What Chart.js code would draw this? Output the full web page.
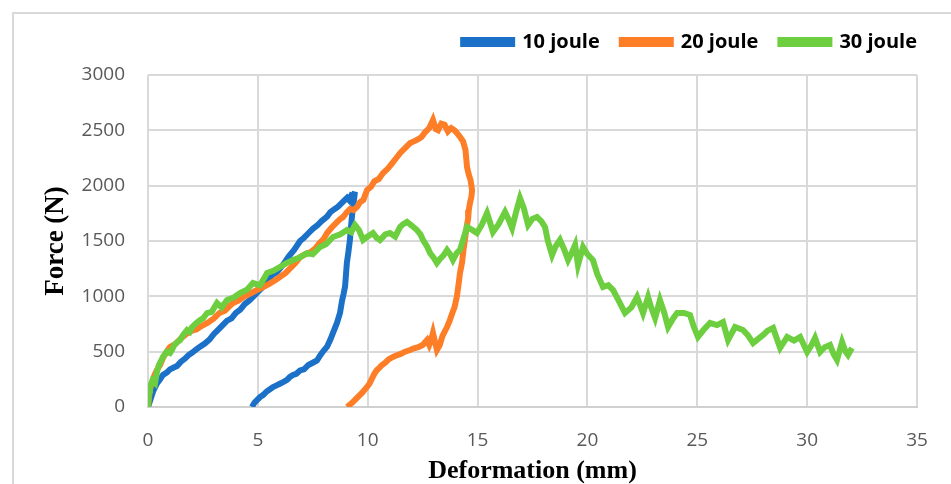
<!DOCTYPE html>
<html>
<head>
<meta charset="utf-8">
<script src="https://cdn.jsdelivr.net/npm/chart.js@4.4.1/dist/chart.umd.min.js"></script>
<style>
  html, body { margin: 0; padding: 0; background: #fff; }
  #wrap { width: 951px; height: 484px; }
</style>
</head>
<body>
<div id="wrap"><canvas id="c" width="951" height="484"></canvas></div>
<script>
// impact test curves (deformation mm / force N)
const labels = ['10 joule', '20 joule', '30 joule'];
const colors = ['#1b71c8', '#fd7e27', '#6dcf40'];
const xTicks = [0, 5, 10, 15, 20, 25, 30, 35];
const yTicks = [0, 500, 1000, 1500, 2000, 2500, 3000];

const blueX = [0, 0.1, 0.23, 0.4, 0.55, 0.68, 0.85, 1.0, 1.15, 1.32, 1.5, 1.7, 1.85, 2.0, 2.2, 2.37, 2.6, 2.8, 3.0, 3.2, 3.4, 3.6, 3.8, 4.0, 4.2, 4.4, 4.6, 4.78, 5.0, 5.2, 5.45, 5.69, 5.85, 6.0, 6.2, 6.4, 6.65, 6.92, 7.1, 7.3, 7.5, 7.7, 7.9, 8.15, 8.3, 8.5, 8.65, 8.8, 8.95, 9.06, 9.15, 9.25, 9.35, 9.42,
  9.36, 9.3, 9.25, 9.19, 9.12, 9.05, 8.97, 8.9, 8.83, 8.74, 8.6, 8.42, 8.3, 8.15, 8.0, 7.85, 7.69, 7.5, 7.3, 7.1, 6.92, 6.75, 6.6, 6.45, 6.33, 6.15, 6.0, 5.85, 5.69, 5.55, 5.4, 5.25, 5.1, 4.95, 4.85, 4.73];
const blueY = [0, 60, 140, 210, 250, 290, 310, 340, 355, 370, 410, 440, 470, 490, 520, 545, 575, 610, 660, 700, 740, 780, 800, 850, 880, 930, 960, 995, 1040, 1080, 1150, 1200, 1215, 1250, 1300, 1360, 1420, 1500, 1530, 1570, 1610, 1640, 1680, 1720, 1760, 1790, 1810, 1840, 1870, 1890, 1870, 1910, 1900, 1945,
  1850, 1760, 1650, 1510, 1400, 1300, 1090, 1020, 960, 850, 760, 670, 610, 545, 510, 470, 420, 400, 380, 340, 330, 300, 290, 270, 245, 225, 210, 195, 180, 160, 140, 110, 90, 60, 40, 0];

// loading branch up to the peak, then the unloading branch back to zero
const orangeX = [0, 0.08, 0.15, 0.3, 0.41, 0.55, 0.7, 0.85, 1.0, 1.25, 1.5, 1.75, 2.0, 2.2, 2.37, 2.7, 3.0, 3.25, 3.5, 3.7, 3.87, 4.1, 4.4, 4.7, 4.96, 5.2, 5.5, 5.75, 6.0, 6.25, 6.5, 6.7, 6.92, 7.15, 7.4, 7.6, 7.8, 8.0, 8.15, 8.35, 8.5, 8.7, 8.88, 9.05, 9.2, 9.35, 9.51, 9.65, 9.8, 9.97, 10.15, 10.3, 10.5, 10.7, 10.9, 11.1, 11.3, 11.5, 11.7, 11.93, 12.1, 12.3, 12.45, 12.6, 12.8, 12.97, 13.1, 13.2, 13.35, 13.5, 13.65, 13.8, 13.95, 14.06, 14.2, 14.34, 14.45, 14.52, 14.6, 14.68, 14.75,
  14.72, 14.66, 14.6, 14.57, 14.5, 14.43, 14.36, 14.29, 14.2, 14.15, 14.06, 13.95, 13.85, 13.73, 13.61, 13.5, 13.4, 13.28, 13.15, 13.05, 12.97, 12.88, 12.8, 12.7, 12.5, 12.3, 12.1, 11.93, 11.7, 11.5, 11.3, 11.15, 10.95, 10.8, 10.65, 10.56, 10.42, 10.3, 10.2, 10.08, 9.97, 9.75, 9.5, 9.3, 9.06];
const orangeY = [0, 150, 200, 290, 334, 380, 450, 500, 542, 570, 620, 660, 690, 700, 723, 760, 800, 850, 870, 910, 940, 960, 1000, 1030, 1057, 1080, 1110, 1140, 1175, 1210, 1260, 1300, 1355, 1380, 1400, 1430, 1480, 1520, 1572, 1620, 1650, 1690, 1717, 1760, 1790, 1780, 1807, 1850, 1870, 1961, 1990, 2040, 2060, 2114, 2150, 2200, 2250, 2300, 2340, 2385, 2400, 2420, 2440, 2480, 2520, 2593, 2510, 2500, 2560, 2550, 2490, 2520, 2500, 2476, 2440, 2400, 2322, 2169, 2100, 2050, 1961,
  1900, 1850, 1780, 1700, 1626, 1520, 1419, 1300, 1211, 1130, 1000, 900, 850, 780, 723, 680, 640, 560, 515, 600, 669, 600, 560, 605, 560, 540, 530, 515, 500, 480, 465, 452, 430, 400, 380, 361, 334, 300, 260, 210, 181, 130, 80, 40, 0];

const greenX = [0, 0.05, 0.09, 0.2, 0.32, 0.42, 0.5, 0.6, 0.68, 0.85, 1.0, 1.1, 1.2, 1.35, 1.46, 1.6, 1.78, 1.9, 2.0, 2.2, 2.37, 2.5, 2.69, 2.9, 3.14, 3.35, 3.6, 3.9, 4.19, 4.5, 4.78, 5.1, 5.42, 5.7, 6.0, 6.3, 6.6, 6.9, 7.24, 7.5, 7.83, 8.1, 8.42, 8.75, 9.06, 9.25, 9.42, 9.6, 9.79, 10.0, 10.24, 10.4, 10.56, 10.8, 11.01, 11.25, 11.47, 11.6, 11.79, 12.0, 12.24, 12.4, 12.52, 12.7, 12.84, 13.0, 13.15, 13.3, 13.45, 13.61, 13.75, 13.88, 14.05, 14.2, 14.34, 14.52, 14.75, 14.97, 15.2, 15.43, 15.55, 15.7, 15.95, 16.25, 16.4, 16.57, 16.75, 16.93, 17.1, 17.3, 17.5, 17.7, 17.9, 18.07, 18.2, 18.39, 18.55, 18.75, 18.95, 19.12, 19.3, 19.44, 19.57, 19.8, 20.0, 20.25, 20.45, 20.71, 20.95, 21.17, 21.45, 21.71, 22.0, 22.26, 22.4, 22.53, 22.76, 22.9, 23.08, 23.3, 23.5, 23.67, 23.9, 24.08, 24.4, 24.67, 24.85, 25.03, 25.3, 25.58, 25.9, 26.17, 26.4, 26.72, 27.08, 27.3, 27.54, 27.8, 28.0, 28.2, 28.45, 28.77, 29.09, 29.4, 29.68, 30.0, 30.2, 30.36, 30.59, 30.8, 31.04, 31.2, 31.36, 31.59, 31.75, 31.86, 32.04];
const greenY = [0, 150, 181, 240, 217, 330, 380, 420, 452, 500, 488, 520, 560, 590, 605, 650, 696, 680, 720, 760, 786, 800, 849, 860, 940, 900, 967, 990, 1030, 1060, 1120, 1100, 1211, 1230, 1265, 1300, 1328, 1350, 1391, 1380, 1446, 1470, 1536, 1560, 1599, 1580, 1645, 1600, 1509, 1540, 1572, 1530, 1509, 1560, 1572, 1540, 1626, 1650, 1672, 1640, 1599, 1560, 1509, 1450, 1391, 1350, 1301, 1340, 1370, 1419, 1380, 1328, 1390, 1419, 1509, 1626, 1600, 1572, 1650, 1753, 1680, 1581, 1650, 1762, 1700, 1617, 1760, 1888, 1800, 1645, 1700, 1717, 1680, 1626, 1500, 1373, 1450, 1509, 1420, 1328, 1400, 1464, 1283, 1446, 1380, 1328, 1200, 1084, 1100, 1057, 950, 849, 900, 994, 920, 849, 994, 900, 804, 967, 850, 723, 800, 849, 850, 831, 720, 633, 700, 759, 740, 768, 605, 723, 696, 650, 578, 620, 651, 690, 714, 533, 633, 600, 633, 497, 560, 624, 497, 540, 560, 480, 425, 587, 500, 470, 533];

function toPoints(xs, ys) {
  return xs.map((x, i) => ({ x: x, y: ys[i] }));
}

const series = [toPoints(blueX, blueY), toPoints(orangeX, orangeY), toPoints(greenX, greenY)];

// excel style outer frame, only top + left edge are visible in the crop
const framePlugin = {
  id: 'frame',
  beforeDraw(chart) {
    const c = chart.ctx;
    c.save();
    c.strokeStyle = '#d9d9d9';
    c.lineWidth = 2;
    c.strokeRect(13, 13, 960, 500);
    c.restore();
  }
};

// fixed legend band height + drop the trailing item padding on the right
const legendFix = {
  id: 'legendFix',
  afterInit(chart) {
    const lg = chart.legend;
    if (!lg) return;
    const fit = lg.fit;
    lg.fit = function () {
      fit.call(this);
      this.height = 65;
    };
  },
  afterLayout(chart) {
    const lg = chart.legend;
    if (!lg) return;
    lg.left += 22;
    lg.right += 22;
  }
};

const tickFont = { family: "'Open Sans', sans-serif", size: 19 };

new Chart(document.getElementById('c'), {
  type: 'scatter',
  data: {
    datasets: series.map((pts, i) => ({
      label: labels[i],
      data: pts,
      showLine: true,
      borderColor: colors[i],
      backgroundColor: colors[i],
      borderWidth: 6,
      pointRadius: 0,
      tension: 0,
      order: 2 - i
    }))
  },
  options: {
    responsive: false,
    animation: false,
    layout: { padding: { left: 43, right: 34, top: 10, bottom: 0 } },
    plugins: {
      tooltip: { enabled: false },
      legend: {
        position: 'top',
        align: 'end',
        labels: {
          sort: (a, b) => a.datasetIndex - b.datasetIndex,
          boxWidth: 49,
          boxHeight: 4,
          padding: 22,
          color: '#000',
          font: { family: "'Open Sans', sans-serif", size: 20, weight: 'bold' }
        }
      }
    },
    scales: {
      x: {
        type: 'linear',
        min: 0, max: 35,
        afterBuildTicks: s => { s.ticks = xTicks.map(v => ({ value: v })); },
        afterFit: s => { s.height = 77; },
        grid: { color: '#d9d9d9', lineWidth: 2, drawTicks: false },
        border: { color: '#d0d0d0', width: 2 },
        ticks: { padding: 22, color: '#595959', font: tickFont, callback: v => String(v) },
        title: {
          display: true, text: 'Deformation (mm)', color: '#000',
          padding: 0,
          font: { family: "'Liberation Serif', 'Times New Roman', serif", size: 26, weight: 'bold', lineHeight: 1.0 }
        }
      },
      y: {
        min: 0, max: 3000,
        afterBuildTicks: s => { s.ticks = yTicks.map(v => ({ value: v })); },
        afterFit: s => { s.width = 105; },
        grid: { color: '#d9d9d9', lineWidth: 2, drawTicks: false },
        border: { display: false },
        ticks: { padding: 23, color: '#595959', font: tickFont, callback: v => String(v) },
        title: {
          display: true, text: 'Force (N)', color: '#000',
          padding: 0,
          font: { family: "'Liberation Serif', 'Times New Roman', serif", size: 27, weight: 'bold', lineHeight: 1.0 }
        }
      }
    }
  },
  plugins: [framePlugin, legendFix]
});
</script>
</body>
</html>
